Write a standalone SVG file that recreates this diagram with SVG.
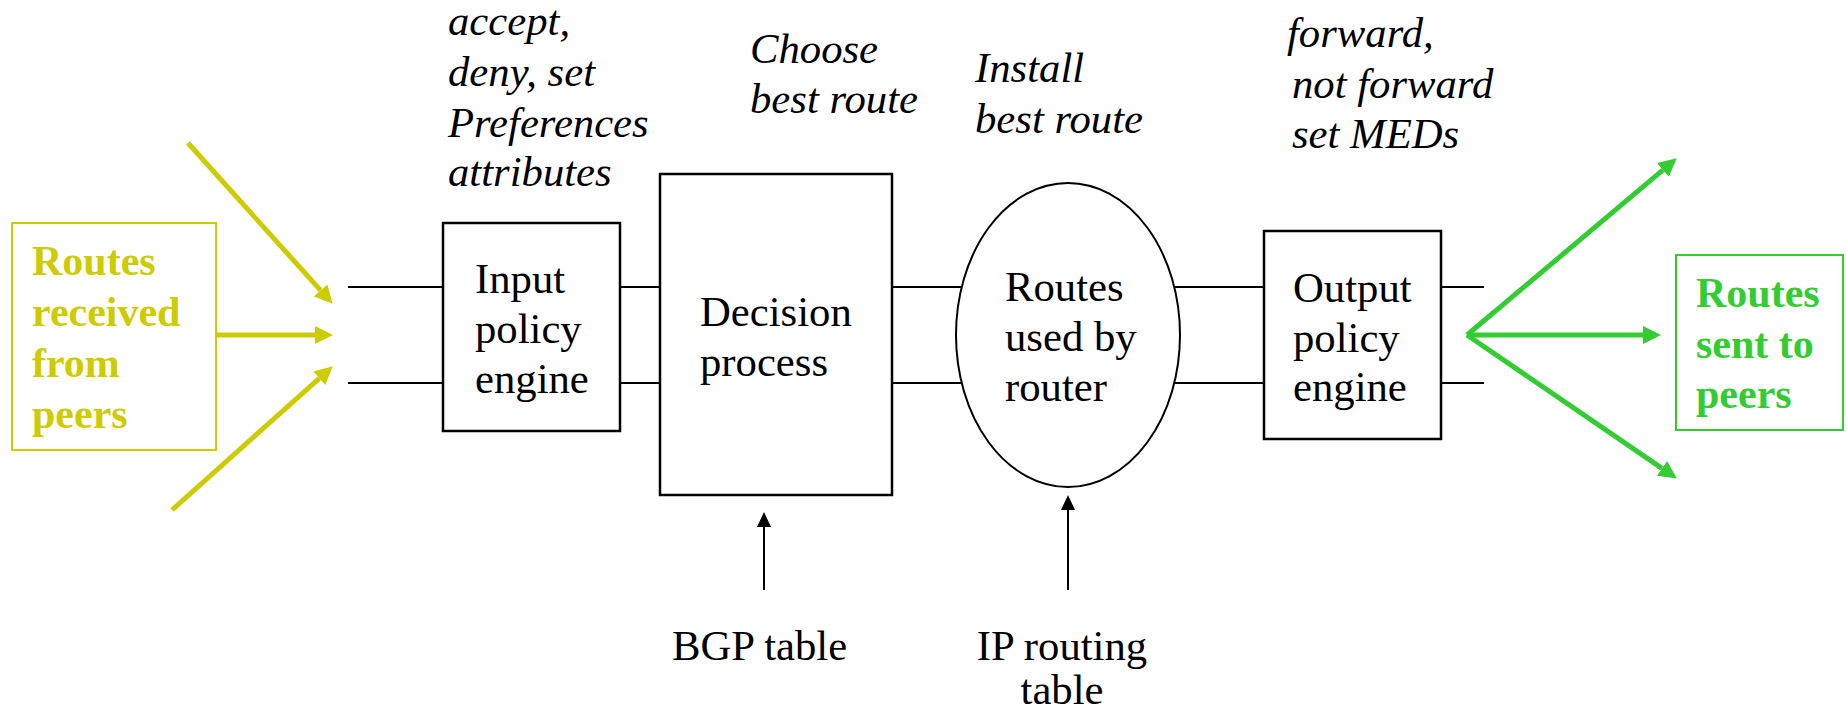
<svg xmlns="http://www.w3.org/2000/svg" width="1847" height="714" viewBox="0 0 1847 714">
<defs>
<marker id="ah-y" markerUnits="userSpaceOnUse" markerWidth="18" markerHeight="18" refX="0" refY="9" orient="auto"><path d="M0,0 L18,9 L0,18 z" fill="#CCCC00"/></marker>
<marker id="ah-g" markerUnits="userSpaceOnUse" markerWidth="18" markerHeight="18" refX="0" refY="9" orient="auto"><path d="M0,0 L18,9 L0,18 z" fill="#33CC33"/></marker>
<marker id="ah-k" markerUnits="userSpaceOnUse" markerWidth="15" markerHeight="14" refX="0" refY="7" orient="auto"><path d="M0,0 L15,7 L0,14 z" fill="#000"/></marker>
</defs>
<rect width="1847" height="714" fill="#fff"/>
<g id="connectors" fill="none">
<g stroke="#000" stroke-width="2">
<line x1="348" y1="287" x2="443" y2="287"/>
<line x1="348" y1="383" x2="443" y2="383"/>
<line x1="620" y1="287" x2="660" y2="287"/>
<line x1="620" y1="383" x2="660" y2="383"/>
<line x1="892" y1="287" x2="962" y2="287"/>
<line x1="892" y1="383" x2="962" y2="383"/>
<line x1="1174" y1="287" x2="1264" y2="287"/>
<line x1="1174" y1="383" x2="1264" y2="383"/>
<line x1="1441" y1="287" x2="1484" y2="287"/>
<line x1="1441" y1="383" x2="1484" y2="383"/>
<line x1="764" y1="590" x2="764" y2="527" marker-end="url(#ah-k)"/>
<line x1="1068" y1="590" x2="1068" y2="510" marker-end="url(#ah-k)"/>
</g>
<g stroke="#CCCC00" stroke-width="5">
<line x1="188" y1="143" x2="320.6" y2="290.4" marker-end="url(#ah-y)"/>
<line x1="204" y1="335" x2="315" y2="335" marker-end="url(#ah-y)"/>
<line x1="172" y1="510" x2="319.3" y2="378.3" marker-end="url(#ah-y)"/>
</g>
<g stroke="#33CC33" stroke-width="5">
<line x1="1467" y1="335" x2="1663" y2="169.9" marker-end="url(#ah-g)"/>
<line x1="1467" y1="335" x2="1643" y2="335" marker-end="url(#ah-g)"/>
<line x1="1467" y1="335" x2="1662" y2="468.4" marker-end="url(#ah-g)"/>
</g>
</g>
<g id="received">
<rect x="12" y="223" width="204" height="227" fill="#fff" stroke="#CCCC00" stroke-width="2"/>
<text font-family="Liberation Serif" font-size="42" font-weight="bold" fill="#CCCC00" x="32" y="275">Routes</text>
<text font-family="Liberation Serif" font-size="42" font-weight="bold" fill="#CCCC00" x="32" y="326">received</text>
<text font-family="Liberation Serif" font-size="42" font-weight="bold" fill="#CCCC00" x="32" y="377">from</text>
<text font-family="Liberation Serif" font-size="42" font-weight="bold" fill="#CCCC00" x="32" y="428">peers</text>
</g>
<g id="input-policy">
<rect x="443" y="223" width="177" height="208" fill="#fff" stroke="#000" stroke-width="2.5"/>
<text font-family="Liberation Serif" font-size="42.7" x="475" y="293">Input</text>
<text font-family="Liberation Serif" font-size="42.7" x="475" y="343">policy</text>
<text font-family="Liberation Serif" font-size="42.7" x="475" y="393">engine</text>
</g>
<g id="input-note">
<text font-family="Liberation Serif" font-size="42.7" font-style="italic" x="448" y="35">accept,</text>
<text font-family="Liberation Serif" font-size="42.7" font-style="italic" x="448" y="86">deny, set</text>
<text font-family="Liberation Serif" font-size="42.7" font-style="italic" x="448" y="137">Preferences</text>
<text font-family="Liberation Serif" font-size="42.7" font-style="italic" x="448" y="186">attributes</text>
</g>
<g id="decision">
<rect x="660" y="174" width="232" height="321" fill="#fff" stroke="#000" stroke-width="2.5"/>
<text font-family="Liberation Serif" font-size="42.7" x="700" y="326">Decision</text>
<text font-family="Liberation Serif" font-size="42.7" x="700" y="376">process</text>
</g>
<g id="decision-note">
<text font-family="Liberation Serif" font-size="42.7" font-style="italic" x="750" y="63">Choose</text>
<text font-family="Liberation Serif" font-size="42.7" font-style="italic" x="750" y="113">best route</text>
</g>
<g id="routes-used">
<ellipse cx="1068" cy="335" rx="112" ry="152" fill="#fff" stroke="#000" stroke-width="2"/>
<text font-family="Liberation Serif" font-size="42.7" x="1005" y="301">Routes</text>
<text font-family="Liberation Serif" font-size="42.7" x="1005" y="351">used by</text>
<text font-family="Liberation Serif" font-size="42.7" x="1005" y="401">router</text>
</g>
<g id="install-note">
<text font-family="Liberation Serif" font-size="42.7" font-style="italic" x="975" y="82">Install</text>
<text font-family="Liberation Serif" font-size="42.7" font-style="italic" x="975" y="133">best route</text>
</g>
<g id="output-policy">
<rect x="1264" y="231" width="177" height="208" fill="#fff" stroke="#000" stroke-width="2.5"/>
<text font-family="Liberation Serif" font-size="42.7" x="1293" y="302">Output</text>
<text font-family="Liberation Serif" font-size="42.7" x="1293" y="352">policy</text>
<text font-family="Liberation Serif" font-size="42.7" x="1293" y="401">engine</text>
</g>
<g id="output-note">
<text font-family="Liberation Serif" font-size="42.7" font-style="italic" x="1287" y="47">forward,</text>
<text font-family="Liberation Serif" font-size="42.7" font-style="italic" x="1292" y="98">not forward</text>
<text font-family="Liberation Serif" font-size="42.7" font-style="italic" x="1292" y="148">set MEDs</text>
</g>
<g id="sent">
<rect x="1676" y="255" width="167" height="175" fill="#fff" stroke="#33CC33" stroke-width="2"/>
<text font-family="Liberation Serif" font-size="42" font-weight="bold" fill="#33CC33" x="1696" y="307">Routes</text>
<text font-family="Liberation Serif" font-size="42" font-weight="bold" fill="#33CC33" x="1696" y="358">sent to</text>
<text font-family="Liberation Serif" font-size="42" font-weight="bold" fill="#33CC33" x="1696" y="408">peers</text>
</g>
<g id="bgp-table">
<text font-family="Liberation Serif" font-size="42.7" x="672" y="660">BGP table</text>
</g>
<g id="ip-table">
<text font-family="Liberation Serif" font-size="42.7" x="1062" y="660" text-anchor="middle">IP routing</text>
<text font-family="Liberation Serif" font-size="42.7" x="1062" y="704" text-anchor="middle">table</text>
</g>
</svg>
